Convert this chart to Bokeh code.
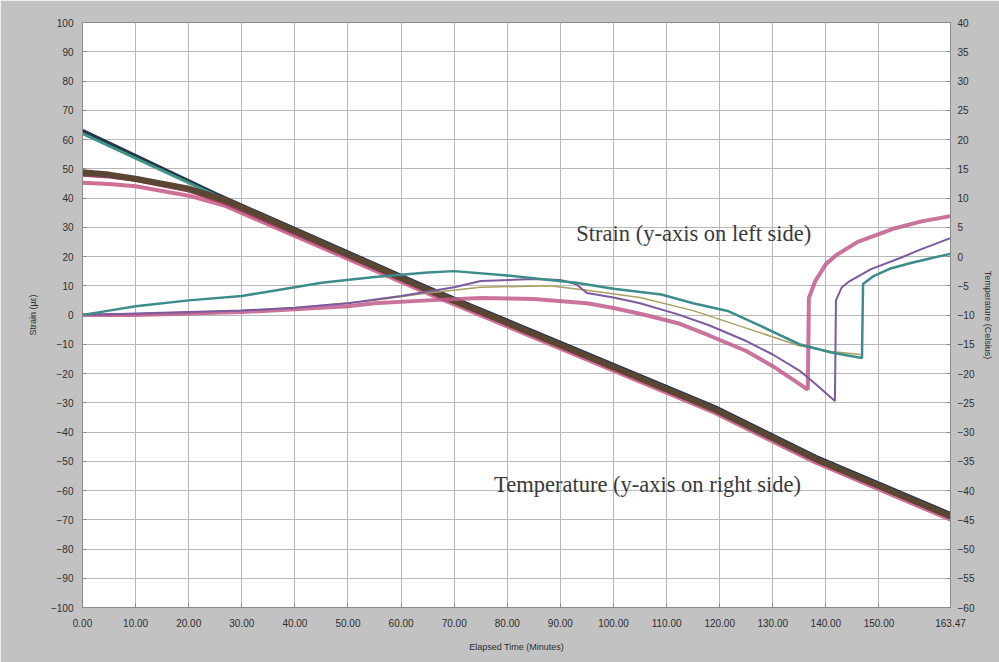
from bokeh.plotting import figure
from bokeh.models import Range1d, LinearAxis, FixedTicker, Label
from bokeh.embed import file_html
from bokeh.resources import INLINE

# ---------------- data ----------------
x_ticks = [0, 10, 20, 30, 40, 50, 60, 70, 80, 90, 100, 110, 120, 130, 140, 150, 163.47]
x_tick_labels = ["0.00", "10.00", "20.00", "30.00", "40.00", "50.00", "60.00", "70.00", "80.00",
                 "90.00", "100.00", "110.00", "120.00", "130.00", "140.00", "150.00", "163.47"]
strain_ticks = list(range(-100, 101, 10))
temp_ticks = list(range(-60, 41, 5))

# strain gauges (left axis)
teal_t = [0, 5, 10, 20, 30, 40, 45, 55, 65, 70, 80, 88, 93, 100, 109, 115, 121.5, 128, 135, 141, 146.8,
          147.0, 149, 152, 156, 160, 163.47]
teal_s = [0, 1.5, 3, 5, 6.5, 9.5, 11, 13, 14.5, 15, 13.5, 12, 11, 9, 7, 4, 1.4, -4, -10, -12.8, -14.7,
          10.6, 13.3, 15.8, 17.8, 19.5, 20.9]

olive_t = [0, 20, 40, 55, 65, 75, 88, 95, 105, 115, 125, 135, 141, 146.5]
olive_s = [0, 0.5, 2.5, 5, 7.5, 9.5, 10, 8.5, 6, 1.5, -4.5, -10.5, -12.5, -13.5]

purple_t = [0, 10, 20, 30, 40, 50, 60, 70, 75, 85, 90, 93, 95, 100, 105, 112, 118, 125, 130, 135, 138, 141.7,
            141.9, 143, 144.5, 148.5, 154, 158, 163.47]
purple_s = [0, 0.5, 1, 1.5, 2.5, 4, 6.5, 9.5, 11.6, 12.3, 12, 10.5, 7.5, 6, 4, 0.3, -3.5, -8.9, -13.5, -19, -23.5, -29.4,
            5, 9.5, 11.6, 15.7, 19.5, 22.5, 26.3]

pink_t = [0, 10, 20, 30, 40, 50, 55, 65, 75, 85, 95, 100, 106, 112.5, 118, 125, 130, 136.6,
          136.8, 138, 140, 142, 146, 152.5, 158, 163.47]
pink_s = [0, 0, 0.5, 1, 2, 3, 4, 5, 5.8, 5.5, 4, 2.4, 0, -3, -7, -12.3, -17.5, -25.5,
          5.8, 11.6, 17.4, 20.5, 25, 29.4, 32, 33.8]

# thermocouples (right axis, deg C)
tc_navy_t = [0, 25, 65, 119, 138, 163.47]
tc_navy_T = [21.5, 10.7, -5.3, -25.7, -34.2, -44.0]

tc_teal_t = [0, 25, 65, 119, 138, 163.47]
tc_teal_T = [21.0, 10.5, -5.5, -25.9, -34.4, -44.2]

tc_maroon_t = [0, 5, 10, 20, 27, 65, 119, 138, 163.47]
tc_maroon_T = [13.9, 13.6, 13.0, 11.2, 9.0, -6.0, -26.4, -34.9, -44.7]

tc_pink_t = [0, 5, 10, 20, 27, 65, 119, 138, 163.47]
tc_pink_T = [12.6, 12.4, 12.0, 10.4, 8.6, -6.3, -26.7, -35.2, -45.0]

tc_brown_t = [0, 5, 10, 20, 27, 65, 119, 138, 163.47]
tc_brown_T = [14.4, 14.0, 13.3, 11.6, 9.6, -5.7, -26.1, -34.6, -44.4]

# ---------------- figure ----------------
p = figure(width=999, height=662, output_backend="svg", toolbar_location=None,
           x_range=Range1d(0, 163.47), y_range=Range1d(-100, 100),
           min_border_left=82, min_border_right=49, min_border_top=22, min_border_bottom=55)
p.extra_y_ranges = {"temp": Range1d(-60, 40)}

p.background_fill_color = "white"
p.border_fill_color = "#c2c2c2"
p.outline_line_color = "#8a8a8a"

lab_font = "Liberation Sans"
p.xaxis.ticker = FixedTicker(ticks=x_ticks)
p.xaxis.major_label_overrides = {t: l for t, l in zip(x_ticks, x_tick_labels)}
p.yaxis.ticker = FixedTicker(ticks=strain_ticks)

r_axis = LinearAxis(y_range_name="temp", ticker=FixedTicker(ticks=temp_ticks))
p.add_layout(r_axis, "right")

p.xaxis.axis_label = "Elapsed Time (Minutes)"
p.yaxis[0].axis_label = "Strain (\u00b5\u03b5)"
r_axis.axis_label = "Temperature (Celsius)"

for ax in [p.xaxis[0], p.yaxis[0], r_axis]:
    ax.major_label_text_font = lab_font
    ax.major_label_text_font_size = "10px"
    ax.major_label_text_color = "#2e2e2e"
    ax.axis_label_text_font = lab_font
    ax.axis_label_text_font_size = "9px"
    ax.axis_label_text_font_style = "normal"
    ax.axis_label_text_color = "#2e2e2e"
    ax.axis_line_color = "#8a8a8a"
    ax.major_tick_line_color = "#8a8a8a"
    ax.minor_tick_line_color = None
    ax.major_tick_in = 4
    ax.major_tick_out = 0

p.xaxis.major_label_standoff = 11
p.xaxis.axis_label_standoff = 12
p.yaxis[0].major_label_standoff = 9
p.yaxis[0].axis_label_standoff = 10
r_axis.major_label_standoff = 7
r_axis.axis_label_standoff = 6

p.xgrid.grid_line_color = "#b8b8b8"
p.ygrid.grid_line_color = "#b8b8b8"

# temperature bundle
p.line(tc_navy_t, tc_navy_T, y_range_name="temp", line_color="#24344f", line_width=4)
p.line(tc_teal_t, tc_teal_T, y_range_name="temp", line_color="#3f9484", line_width=3)
p.line(tc_pink_t, tc_pink_T, y_range_name="temp", line_color="#cf6f95", line_width=4)
p.line(tc_maroon_t, tc_maroon_T, y_range_name="temp", line_color="#9e3f62", line_width=3)
p.line(tc_brown_t, tc_brown_T, y_range_name="temp", line_color="#5b4633", line_width=6)

# strain gauges
p.line(olive_t, olive_s, line_color="#a8a060", line_width=1.5)
p.line(pink_t, pink_s, line_color="#c05a8c", line_width=4, line_alpha=0.85)
p.line(purple_t, purple_s, line_color="#7d5a9e", line_width=2)
p.line(teal_t, teal_s, line_color="#3c8c8c", line_width=2.5)

p.add_layout(Label(x=93, y=28, text="Strain (y-axis on left side)", text_font="Liberation Serif",
                   text_font_size="22.5px", text_color="#3a3a3a", text_baseline="middle"))
p.add_layout(Label(x=77.5, y=-57.8, text="Temperature (y-axis on right side)", text_font="Liberation Serif",
                   text_font_size="22.5px", text_color="#3a3a3a", text_baseline="middle"))

open("out.html", "w").write(file_html(p, INLINE))
